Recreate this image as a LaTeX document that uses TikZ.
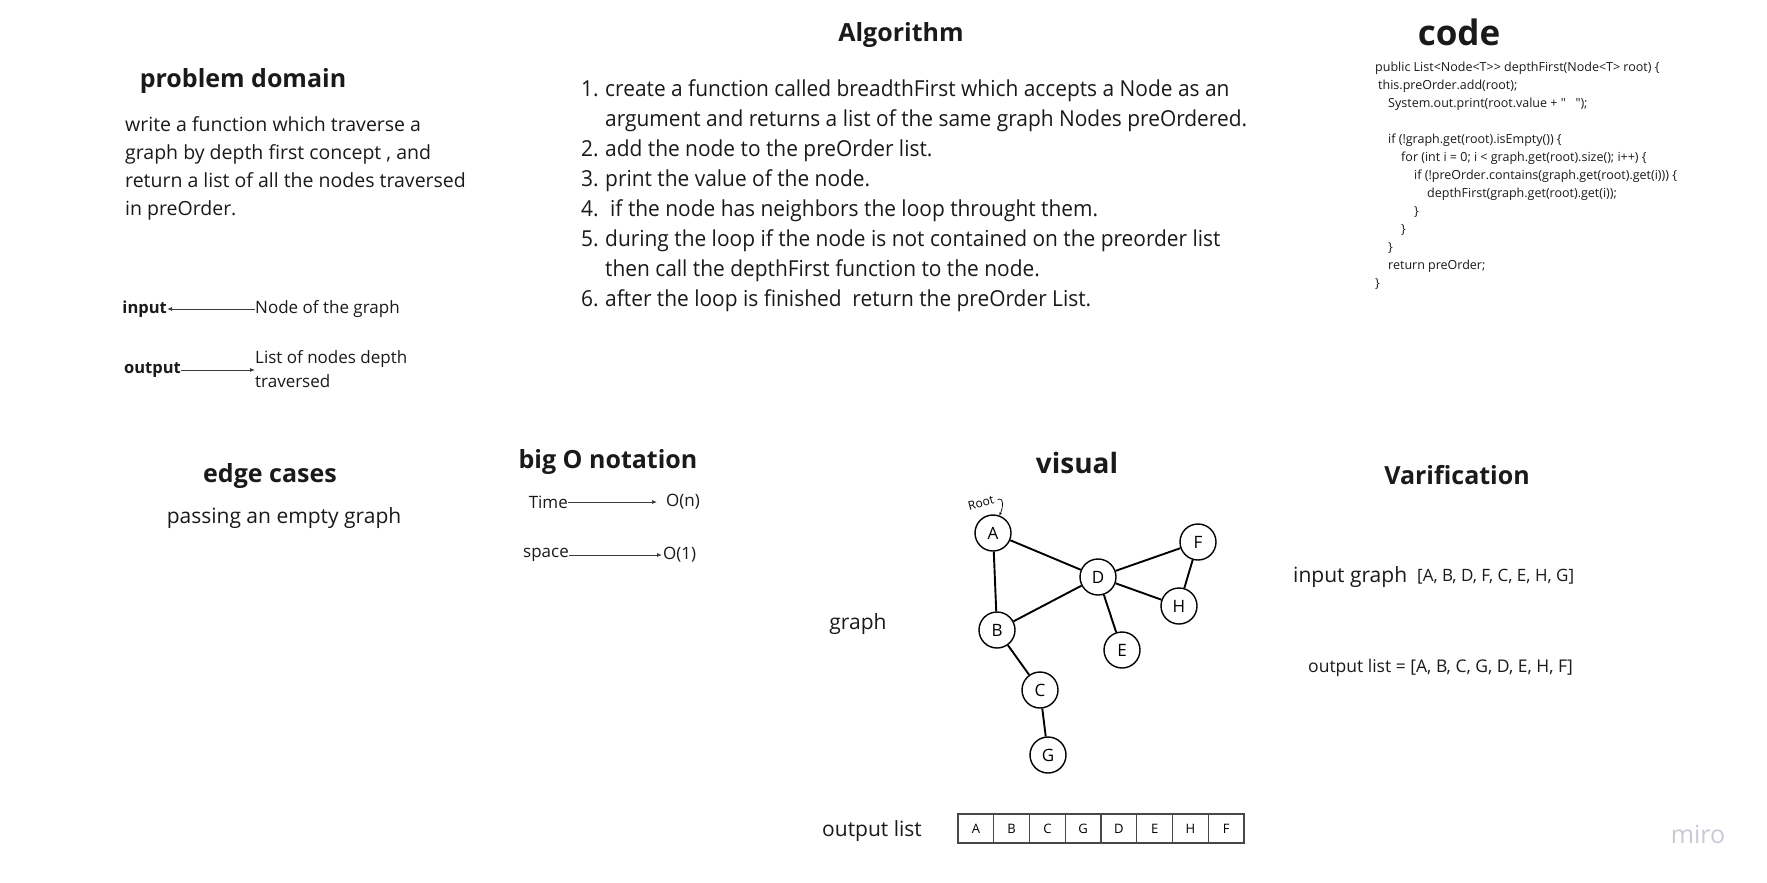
\documentclass[tikz,border=0pt]{standalone}
\usepackage{fontspec}
\setmainfont{Open Sans}
\newfontfamily\algfont[FakeStretch=0.95]{Open Sans}
\newfontfamily\codefont[Ligatures=TeXOff]{Open Sans}
\usepackage{tikz}
\usetikzlibrary{positioning}
\usetikzlibrary{arrows.meta}

\definecolor{ink}{HTML}{1A1A1A}
\definecolor{logo}{HTML}{C9C9D6}
\newcommand{\sz}[2]{\fontsize{#1}{#2}\selectfont}

\tikzset{
  title/.style={text=ink, inner sep=0pt, font=\sz{25}{30}\bfseries},
  txt/.style={text=ink, inner sep=0pt, font=\sz{17}{24}},
  arr/.style={-{Latex[length=5pt,width=4pt]}, line width=0.8pt, draw=ink!85},
  vertex/.style={circle, draw, line width=1.4pt, minimum size=36pt, inner sep=0pt, fill=white, font=\sz{17}{20}},
  edge/.style={line width=1.9pt},
  cell/.style={draw=ink!80, line width=1.2pt, minimum width=35.75pt, minimum height=29pt, inner sep=0pt, font=\sz{13}{15}}
}

\begin{document}
\begin{tikzpicture}[x=1pt, y=-1pt]
  \fill[white] (0,0) rectangle (1767,883);
  \useasboundingbox (0,0) rectangle (1767,883);

  % problem domain
  \node[title] at (243,81) (pd) {problem domain};
  \node[txt, font=\sz{19.5}{28}, align=left, anchor=base west] at (125,215) (pdtext) {write a function which traverse a\\graph by depth first concept , and\\return a list of all the nodes traversed\\in preOrder.};
  \node[txt, font=\sz{16.5}{20}\bfseries, anchor=east] at (167,309) (input) {input};
  \node[txt, anchor=west] at (255,309) (inval) {Node of the graph};
  \node[txt, font=\sz{16.5}{20}\bfseries, anchor=east] at (181,370) (output) {output};
  \node[txt, align=left, anchor=west] at (255,369) (outval) {List of nodes depth\\traversed};
  \draw[arr] (inval.west |- input.east) -- (input.east);
  \draw[arr] (output.east) -- (output.east -| outval.west);

  % algorithm
  \node[title] at (901,35) (alg) {Algorithm};
  \node[txt, font=\algfont\sz{22}{30}, align=left, anchor=base west] at (581,306) (steps) {%
    \makebox[24pt][l]{1.}create a function called breadthFirst which accepts a Node as an\\
    \hspace*{24pt}argument and returns a list of the same graph Nodes preOrdered.\\
    \makebox[24pt][l]{2.}add the node to the preOrder list.\\
    \makebox[24pt][l]{3.}print the value of the node.\\
    \makebox[24pt][l]{4.}\hspace*{5pt}if the node has neighbors the loop throught them.\\
    \makebox[24pt][l]{5.}during the loop if the node is not contained on the preorder list\\
    \hspace*{24pt}then call the depthFirst function to the node.\\
    \makebox[24pt][l]{6.}after the loop is finished\ \ return the preOrder List.};

  % code
  \node[title, font=\sz{35}{40}\bfseries] at (1459,32) (code) {code};
  \node[txt, font=\codefont\sz{12.5}{18}, align=left, anchor=base west] at (1375,287) (src) {%
    public List<Node<T>> depthFirst(Node<T> root) \{\\
    \hspace*{3pt}this.preOrder.add(root);\\
    \hspace*{13pt}System.out.print(root.value + "\ \ \ ");\\
    \mbox{}\\
    \hspace*{13pt}if (!graph.get(root).isEmpty()) \{\\
    \hspace*{26pt}for (int i = 0; i < graph.get(root).size(); i++) \{\\
    \hspace*{39pt}if (!preOrder.contains(graph.get(root).get(i))) \{\\
    \hspace*{52pt}depthFirst(graph.get(root).get(i));\\
    \hspace*{39pt}\}\\
    \hspace*{26pt}\}\\
    \hspace*{13pt}\}\\
    \hspace*{13pt}return preOrder;\\
    \}};

  % edge cases
  \node[title] at (270,476) (edge) {edge cases};
  \node[txt, font=\sz{21}{26}] at (284,518) (edgetext) {passing an empty graph};

  % big O
  \node[title] at (608,462) (bigo) {big O notation};
  \node[txt, anchor=east] at (568,502) (time) {Time};
  \node[txt, anchor=west] at (666,502) (on) {O(n)};
  \node[txt, anchor=east] at (569,555) (space) {space};
  \node[txt, anchor=west] at (663,555) (o1) {O(1)};
  \draw[arr, shorten >=9pt] (time.east) -- (time.east -| on.west);
  \draw[arr, shorten >=1pt] (space.east) -- (space.east -| o1.west);

  % visual
  \node[title, font=\sz{28}{32}\bfseries] at (1077,463) (visual) {visual};
  \node[txt, font=\sz{21}{26}] at (858,624) (graph) {graph};
  \node[vertex] at (993,533) (A) {A};
  \node[vertex] at (1098,577) (D) {D};
  \node[vertex] at (1198,542) (F) {F};
  \node[vertex] at (1179,606) (H) {H};
  \node[vertex] at (997,630) (B) {B};
  \node[vertex] at (1122,650) (E) {E};
  \node[vertex] at (1040,690) (C) {C};
  \node[vertex] at (1048,755) (G) {G};
  \foreach \u/\v in {A/D, A/B, B/D, D/F, D/H, F/H, D/E, B/C, C/G}
    \draw[edge] (\u) -- (\v);
  \node[inner sep=0pt, font=\sz{12}{13}, rotate=15] at (981,503) (root) {Root};
  \draw[-{Stealth[length=3pt]}, line width=0.7pt] ([xshift=4pt]root.east) .. controls +(6,-3) and +(4,-8) .. (A.70);

  \node[txt, font=\sz{21}{26}] at (872,831) (outlabel) {output list};
  \foreach \l [count=\i] in {A,B,C,G,D,E,H,F}
    \node[cell] at ({958+35.75*(\i-0.5)},828.5) (cell\i) {\l};

  % verification
  \node[title] at (1457,475) (verif) {Varification};
  \node[txt, font=\sz{21}{26}, anchor=west] at (1293,577) (ingraph) {input graph};
  \node[txt, anchor=west] at (1417,577) (inlist) {[A, B, D, F, C, E, H, G]};
  \node[txt, font=\sz{17.5}{22}, anchor=west] at (1308,668) (outcheck) {output list = [A, B, C, G, D, E, H, F]};

  \node[text=logo, inner sep=0pt, font=\sz{25}{30}] at (1698,834) (miro) {miro};
\end{tikzpicture}
\end{document}
